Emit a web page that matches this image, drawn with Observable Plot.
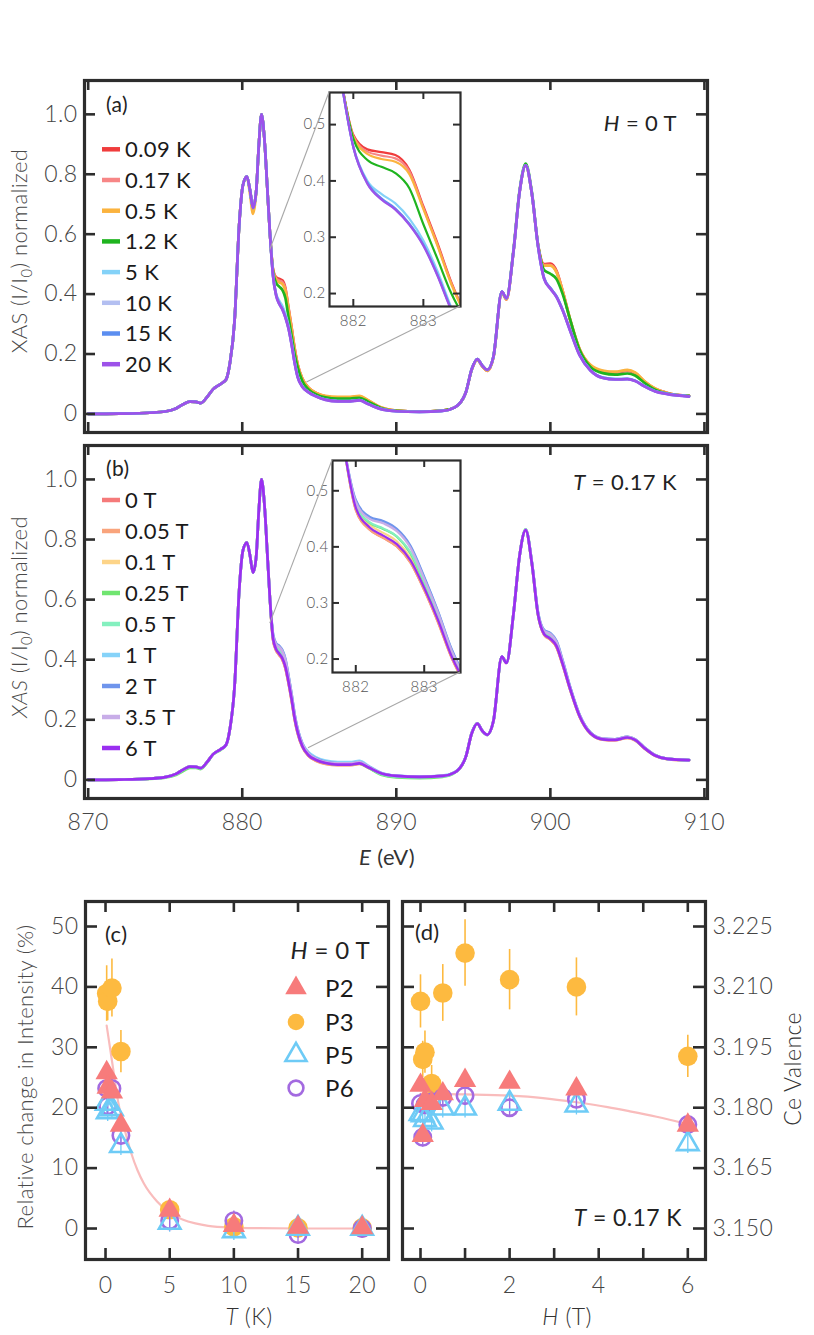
<!DOCTYPE html>
<html>
<head>
<meta charset="utf-8">
<script src="https://cdn.jsdelivr.net/npm/d3@7"></script>
<script src="https://cdn.jsdelivr.net/npm/@observablehq/plot@0.6"></script>
<style>
  html, body { margin: 0; padding: 0; background: #fff; }
  #fig { position: relative; width: 814px; height: 1335px; overflow: hidden; background: #fff; }
  #fig text { font-weight: 300; letter-spacing: 0.4px; }
  #fig text.reg { font-weight: 400; }
</style>
</head>
<body>
<div id="fig"></div>
<script>
// ---------------- data: XAS spectra ----------------
const energy = [
  870, 872, 874, 875, 875.7, 876.2, 876.6, 877.0, 877.3, 877.7, 878.1, 878.6, 878.95,
  879.2, 879.5, 879.8, 880.05, 880.3, 880.5, 880.7, 880.9, 881.08, 881.25, 881.45, 881.62, 881.8,
  882.0, 882.2, 882.4, 882.6, 882.8, 883.0, 883.2, 883.4, 883.6, 883.9, 884.3, 884.8, 885.4,
  886.2, 887.0, 887.6, 888.2, 889.0, 890.0, 891.5, 893.0, 893.8, 894.5, 894.9, 895.25,
  895.6, 895.9, 896.3, 896.85, 897.15, 897.6, 898.0, 898.4, 898.8, 899.2, 899.6, 900.0, 900.4,
  900.8, 901.3, 901.9, 902.6, 903.4, 904.2, 905.0, 905.5, 906.1, 906.8, 907.6, 909.0
];

// common rising part (870 - 881.8 eV), panel (a)
const aRise = [0, .001, .004, .008, .018, .033, .041, .040, .036, .055, .082, .100, .115,
  .17, .31, .63, .765, .792, .748, .688, .74, .90, 1.0, .91, .76, .60];
const aRiseOrange = [0, .001, .004, .008, .018, .033, .041, .040, .036, .055, .082, .100, .115,
  .17, .31, .63, .765, .79, .735, .668, .735, .90, 1.0, .91, .76, .60];
// panel (b)
const bRise = [0, .001, .004, .009, .02, .035, .044, .043, .039, .058, .085, .102, .117,
  .17, .31, .63, .765, .79, .748, .69, .74, .90, 1.0, .91, .76, .60];
const bRiseGreen = [0, .001, .003, .007, .016, .03, .04, .04, .036, .056, .084, .1, .116,
  .17, .31, .63, .765, .79, .748, .69, .74, .90, 1.0, .91, .76, .60];

const a009 = [...aRise,
  .482, .456, .451, .446, .42, .355, .29, .22, .165, .118, .088, .07, .059,
  .054, .054, .058, .043, .021, .011, .008, .011, .022, .07, .148, .18,
  .158, .144, .188, .405, .382, .54, .74, .828, .735, .565, .50, .502, .478,
  .41, .31, .215, .162, .142, .138, .144, .136, .108, .084, .07, .06];
const a017 = [...aRise,
  .48, .452, .445, .44, .417, .352, .287, .218, .164, .117, .087, .069, .058,
  .054, .055, .059, .044, .021, .011, .008, .011, .022, .07, .148, .18,
  .158, .144, .188, .405, .382, .54, .74, .829, .735, .562, .497, .497, .474,
  .41, .312, .216, .162, .143, .139, .145, .137, .109, .084, .07, .06];
const a05 = [...aRiseOrange,
  .478, .448, .439, .434, .412, .35, .285, .216, .163, .117, .088, .07, .06,
  .057, .057, .06, .045, .022, .011, .008, .011, .022, .07, .148, .18,
  .158, .144, .188, .405, .382, .54, .74, .83, .735, .562, .495, .495, .472,
  .41, .313, .217, .164, .145, .141, .147, .139, .11, .085, .07, .06];
const a12 = [...aRise,
  .475, .437, .425, .414, .387, .323, .262, .2, .155, .11, .082, .065, .055,
  .051, .051, .054, .04, .02, .01, .008, .011, .022, .07, .15, .183,
  .16, .147, .19, .408, .386, .545, .745, .836, .74, .565, .48, .468, .45,
  .40, .312, .213, .157, .136, .131, .135, .128, .104, .081, .068, .06];
const a5 = [...aRise,
  .462, .40, .377, .36, .333, .294, .24, .175, .125, .092, .073, .059, .048,
  .043, .043, .046, .033, .017, .009, .007, .010, .022, .07, .15, .183,
  .16, .147, .19, .408, .386, .54, .74, .83, .735, .56, .452, .42, .392,
  .347, .277, .197, .146, .121, .116, .117, .111, .093, .076, .067, .059];
const a10 = [...aRise,
  .46, .396, .368, .35, .323, .286, .233, .171, .123, .091, .072, .058, .047,
  .042, .042, .045, .032, .016, .009, .007, .010, .022, .07, .15, .183,
  .16, .147, .19, .408, .386, .54, .74, .83, .735, .56, .451, .419, .391,
  .346, .276, .196, .145, .12, .115, .116, .110, .092, .075, .066, .058];
const a15 = [...aRise,
  .46, .397, .369, .351, .324, .287, .234, .172, .124, .092, .073, .059, .048,
  .043, .043, .046, .033, .017, .009, .007, .010, .022, .07, .15, .183,
  .16, .147, .19, .408, .386, .54, .74, .83, .735, .56, .452, .42, .392,
  .347, .277, .197, .146, .121, .116, .117, .111, .093, .076, .067, .059];
const a20 = [...aRise,
  .46, .395, .367, .349, .322, .285, .232, .17, .122, .09, .072, .058, .047,
  .042, .042, .045, .032, .016, .009, .007, .010, .022, .07, .15, .183,
  .16, .147, .19, .408, .386, .54, .74, .83, .735, .56, .45, .418, .39,
  .345, .275, .195, .145, .12, .115, .116, .110, .092, .075, .066, .058];

const b0 = [...bRise,
  .466, .431, .416, .401, .372, .323, .266, .202, .155, .11, .08, .064, .054,
  .05, .05, .054, .04, .021, .012, .01, .013, .025, .075, .155, .187,
  .162, .15, .195, .41, .389, .55, .745, .83, .72, .55, .483, .467, .442,
  .383, .298, .21, .154, .134, .132, .14, .132, .105, .08, .069, .065];
const b005 = [...bRise,
  .466, .431, .416, .401, .372, .323, .266, .202, .155, .11, .08, .063, .053,
  .049, .049, .053, .04, .021, .012, .01, .013, .025, .075, .156, .188,
  .162, .15, .195, .41, .39, .55, .745, .832, .72, .55, .483, .467, .442,
  .383, .298, .21, .154, .134, .132, .14, .132, .105, .08, .069, .065];
const b01 = [...bRise,
  .472, .44, .425, .41, .38, .331, .273, .208, .16, .114, .083, .067, .057,
  .052, .052, .056, .042, .022, .013, .01, .013, .025, .075, .156, .188,
  .162, .15, .195, .41, .39, .55, .745, .833, .72, .55, .488, .474, .448,
  .387, .301, .213, .156, .136, .134, .142, .134, .107, .082, .07, .066];
const b025 = [...bRiseGreen,
  .474, .443, .432, .418, .388, .336, .277, .21, .162, .115, .084, .068, .057,
  .052, .052, .055, .04, .017, .008, .006, .01, .024, .075, .156, .188,
  .162, .15, .195, .41, .39, .55, .745, .834, .722, .552, .49, .478, .452,
  .39, .303, .214, .156, .136, .134, .142, .134, .107, .082, .07, .066];
const b05 = [...bRise,
  .475, .444, .433, .419, .39, .338, .278, .211, .162, .116, .085, .069, .058,
  .053, .053, .056, .042, .02, .011, .009, .012, .025, .075, .156, .188,
  .162, .15, .195, .41, .39, .55, .745, .834, .722, .552, .49, .478, .452,
  .39, .303, .214, .156, .136, .134, .142, .134, .107, .082, .07, .066];
const b1 = [...bRise,
  .482, .452, .444, .43, .40, .345, .285, .217, .168, .122, .092, .075, .064,
  .059, .059, .063, .046, .024, .014, .011, .014, .026, .076, .157, .188,
  .162, .15, .195, .41, .39, .55, .745, .832, .724, .556, .497, .487, .46,
  .395, .305, .215, .157, .137, .135, .143, .135, .108, .082, .07, .066];
const b2 = [...bRise,
  .484, .454, .446, .432, .402, .347, .286, .218, .168, .12, .088, .071, .06,
  .055, .055, .059, .044, .023, .013, .01, .013, .025, .075, .156, .188,
  .162, .15, .195, .41, .39, .55, .745, .832, .724, .556, .498, .488, .462,
  .397, .306, .216, .158, .137, .135, .143, .135, .108, .082, .07, .066];
const b35 = [...bRise,
  .48, .45, .442, .428, .398, .343, .283, .215, .166, .119, .087, .07, .059,
  .055, .055, .059, .044, .023, .013, .01, .013, .025, .075, .156, .188,
  .162, .15, .195, .41, .39, .55, .745, .832, .723, .555, .495, .485, .458,
  .393, .304, .215, .157, .137, .135, .143, .135, .108, .082, .07, .066];
const b6 = [...bRise,
  .47, .435, .42, .405, .376, .327, .27, .205, .158, .112, .082, .066, .056,
  .051, .051, .055, .041, .022, .013, .010, .013, .025, .075, .155, .187,
  .162, .15, .195, .41, .389, .55, .745, .831, .72, .55, .485, .47, .445,
  .385, .30, .212, .155, .135, .133, .141, .133, .106, .081, .07, .066];

const tempNames = ["0.09 K", "0.17 K", "0.5 K", "1.2 K", "5 K", "10 K", "15 K", "20 K"];
const tempColors = ["#f03c3c", "#f78686", "#fbb33e", "#1fb41f", "#84d2f8", "#b3bff1", "#5b8ef0", "#9d52e9"];
const fieldNames = ["0 T", "0.05 T", "0.1 T", "0.25 T", "0.5 T", "1 T", "2 T", "3.5 T", "6 T"];
const fieldColors = ["#f57a7a", "#f9a47c", "#fdd488", "#70e570", "#84f0bf", "#86d3f9", "#6f95ec", "#c8ade8", "#9a2ff0"];

const xasTicks = [0, 0.2, 0.4, 0.6, 0.8, 1.0];
const eTicks = [870, 880, 890, 900, 910];
const insetYTicks = [0.2, 0.3, 0.4, 0.5];
const insetXTicks = [882, 883];
const zoomAnchorA = [[881.82, 0.547], [884.2, 0.105]];
const zoomAnchorB = [[881.82, 0.52], [884.3, 0.105]];

// ---------------- data: (c) temperature dependence ----------------
const tempK = [0.09, 0.17, 0.5, 1.2, 5, 10, 15, 20];
const p2T = [25.8, 23.4, 22.6, 17.1, 3.0, 0.5, 0.2, 0.1];
const p3T = [38.9, 37.6, 39.8, 29.3, 3.1, 0.3, 0.1, 0.1];
const p3TErr = [4.6, 3.2, 4.8, 3.5, 1.2, 0.8, 0.8, 0.8];
const p5T = [20.7, 19.3, 19.8, 13.7, 1.0, -0.4, 0.0, 0.0];
const p6T = [23.2, 20.3, 23.2, 15.4, 1.3, 1.3, -1.0, 0.0];
const fitTx = [0.09, 0.5, 1, 1.5, 2, 2.5, 3, 4, 5, 6, 7, 8, 10, 12, 15, 20.5];
const fitTy = [33.6, 27.8, 20.8, 16.3, 12.5, 9.6, 7.4, 4.5, 2.6, 1.5, 0.85, 0.45, 0.15, 0.05, 0, 0];

// ---------------- data: (d) field dependence ----------------
const fieldT = [0, 0.05, 0.1, 0.25, 0.5, 1, 2, 3.5, 6];
const p2H = [23.7, 15.4, 21.2, 20.7, 22.3, 24.5, 24.2, 23.1, 17.1];
const p3H = [37.6, 28.0, 29.2, 24.0, 39.0, 45.6, 41.2, 40.0, 28.5];
const p3HErr = [4.4, 3.0, 3.5, 3.0, 4.7, 5.5, 5.0, 4.8, 3.5];
const p5H = [19.0, 18.8, 18.0, 17.6, 19.9, 19.9, 20.7, 20.4, 14.0];
const p6H = [20.7, 15.1, 20.5, 21.0, 21.7, 22.0, 20.0, 21.4, 17.2];
const fitHx = [0, 1, 2, 2.75, 3.5, 4.2, 4.7, 5.3, 6];
const fitHy = [22.3, 22.2, 22.0, 21.6, 20.9, 20.1, 19.4, 18.5, 17.3];

const pctTicks = [0, 10, 20, 30, 40, 50];
const tempTicks = [0, 5, 10, 15, 20];
const fieldTicks = [0, 1, 2, 3, 4, 5, 6];
const fieldLabelTicks = [0, 2, 4, 6];
const valenceTicks = [3.150, 3.165, 3.180, 3.195, 3.210, 3.225];

// ---------------- styling ----------------
const FONT = "Lato, 'Noto Sans', 'DejaVu Sans', sans-serif";
const FR = "#2d2d2d";
const TT = "#454545";
const P2C = "#f77b7b", P3C = "#fdba40", P5C = "#6ecbf6", P6C = "#a36ae0", FIT = "#f9bcbc";

const fig = document.getElementById("fig");
function place(node, left, top) {
  node.style.position = "absolute";
  node.style.left = left + "px";
  node.style.top = top + "px";
  fig.appendChild(node);
  return node;
}
function toRows(list, names) {
  return list.flatMap((arr, i) => energy.map((E, j) => ({E, v: arr[j], s: names[i]})));
}
const rowsA = toRows([a009, a017, a05, a12, a5, a10, a15, a20], tempNames);
const rowsB = toRows([b0, b005, b01, b025, b05, b1, b2, b35, b6], fieldNames);

const eDomain = [869.76, 910.2];
const xasDomain = [-0.062, 1.113];

function spectrumPanel(rows, names, colors, {height, mt, mb, xLabels}) {
  const W = 814, ml = 84, mr = 107;
  const pw = W - ml - mr, ph = height - mt - mb;
  const marks = [
    Plot.line(rows, {x: "E", y: "v", z: "s", stroke: "s", strokeWidth: 2.7, curve: "monotone-x"}),
    Plot.tickY(xasTicks, {y: d => d, insetRight: pw - 11, stroke: FR, strokeWidth: 2.6}),
    Plot.tickY(xasTicks, {y: d => d, insetLeft: pw - 11, stroke: FR, strokeWidth: 2.6}),
    Plot.tickX(eTicks, {x: d => d, insetBottom: ph - 10, stroke: FR, strokeWidth: 2.6}),
    Plot.tickX(eTicks, {x: d => d, insetTop: ph - 10, stroke: FR, strokeWidth: 2.6}),
    Plot.text(xasTicks, {y: d => d, text: d => d === 0 ? "0" : d.toFixed(1), frameAnchor: "left",
      textAnchor: "end", lineAnchor: "middle", dx: -7, fontSize: 23, fill: TT}),
    Plot.frame({stroke: FR, strokeWidth: 3.2})
  ];
  if (xLabels) marks.push(Plot.text(eTicks, {x: d => d, text: d => String(d), frameAnchor: "bottom",
    lineAnchor: "middle", dy: 24, fontSize: 23, fill: TT}));
  return Plot.plot({
    width: W, height, marginLeft: ml, marginRight: mr, marginTop: mt, marginBottom: mb,
    x: {domain: eDomain, axis: null}, y: {domain: xasDomain, axis: null},
    color: {domain: names, range: colors},
    style: {background: "transparent", overflow: "visible", fontFamily: FONT},
    marks
  });
}

function insetPanel(rows, names, colors, {fw, fh, yDomain}) {
  const ml = 45, mr = 8, mt = 8, mb = 30;
  return Plot.plot({
    width: ml + fw + mr, height: mt + fh + mb, marginLeft: ml, marginRight: mr, marginTop: mt, marginBottom: mb,
    x: {domain: [881.66, 883.53], axis: null}, y: {domain: yDomain, axis: null},
    color: {domain: names, range: colors},
    style: {background: "transparent", overflow: "visible", fontFamily: FONT},
    marks: [
      Plot.frame({fill: "white"}),
      Plot.line(rows, {x: "E", y: "v", z: "s", stroke: "s", strokeWidth: 2.2, curve: "monotone-x", clip: true}),
      Plot.tickY(insetYTicks, {y: d => d, insetRight: fw - 7, stroke: FR, strokeWidth: 2}),
      Plot.tickY(insetYTicks, {y: d => d, insetLeft: fw - 7, stroke: FR, strokeWidth: 2}),
      Plot.tickX(insetXTicks, {x: d => d, insetBottom: fh - 7, stroke: FR, strokeWidth: 2}),
      Plot.tickX(insetXTicks, {x: d => d, insetTop: fh - 7, stroke: FR, strokeWidth: 2}),
      Plot.text(insetYTicks, {y: d => d, text: d => d.toFixed(1), frameAnchor: "left", textAnchor: "end",
        lineAnchor: "middle", dx: -4, fontSize: 15, fill: "#555"}),
      Plot.text(insetXTicks, {x: d => d, text: d => String(d), frameAnchor: "bottom", lineAnchor: "middle",
        dy: 15, fontSize: 15, fill: "#555"}),
      Plot.frame({stroke: FR, strokeWidth: 2.2})
    ]
  });
}

const plotA = place(spectrumPanel(rowsA, tempNames, tempColors, {height: 440, mt: 80, mb: 8, xLabels: false}), 0, 0);
const plotB = place(spectrumPanel(rowsB, fieldNames, fieldColors, {height: 440, mt: 5, mb: 82, xLabels: true}), 0, 440);

const insetBoxA = {left: 329, top: 92, right: 460, bottom: 306};
const insetBoxB = {left: 332, top: 460, right: 460, bottom: 672};
place(insetPanel(rowsA, tempNames, tempColors, {fw: insetBoxA.right - insetBoxA.left, fh: insetBoxA.bottom - insetBoxA.top, yDomain: [0.177, 0.557]}),
  insetBoxA.left - 45, insetBoxA.top - 8);
place(insetPanel(rowsB, fieldNames, fieldColors, {fw: insetBoxB.right - insetBoxB.left, fh: insetBoxB.bottom - insetBoxB.top, yDomain: [0.176, 0.554]}),
  insetBoxB.left - 45, insetBoxB.top - 8);

// ---------------- (c) and (d) ----------------
const pctDomain = [-5.13, 54.14];
function pointMarks(rows, fitRows) {
  return [
    Plot.line(fitRows, {x: "x", y: "y", stroke: FIT, strokeWidth: 2.2, curve: "monotone-x"}),
    Plot.ruleX(rows, {x: "x", y1: d => d.p3 - d.e3, y2: d => d.p3 + d.e3, stroke: P3C, strokeWidth: 1.6}),
    Plot.dot(rows, {x: "x", y: "p3", r: 9.8, fill: P3C}),
    Plot.ruleX(rows, {x: "x", y1: d => d.p5 - 1.6, y2: d => d.p5 + 1.6, stroke: P5C, strokeWidth: 1.3}),
    Plot.ruleX(rows, {x: "x", y1: d => d.p6 - 1.6, y2: d => d.p6 + 1.6, stroke: P6C, strokeWidth: 1.3}),
    Plot.dot(rows, {x: "x", y: "p6", r: 8.2, stroke: P6C, strokeWidth: 2.6, fill: "none"}),
    Plot.dot(rows, {x: "x", y: "p5", symbol: "triangle", r: 8, stroke: P5C, strokeWidth: 2.6, fill: "none"}),
    Plot.dot(rows, {x: "x", y: "p2", symbol: "triangle", r: 8.3, fill: P2C})
  ];
}
const rowsC = tempK.map((x, i) => ({x, p2: p2T[i], p3: p3T[i], e3: p3TErr[i], p5: p5T[i], p6: p6T[i]}));
const rowsD = fieldT.map((x, i) => ({x, p2: p2H[i], p3: p3H[i], e3: p3HErr[i], p5: p5H[i], p6: p6H[i]}));
const fitC = fitTx.map((x, i) => ({x, y: fitTy[i]}));
const fitD = fitHx.map((x, i) => ({x, y: fitHy[i]}));

function framedTicks(pw, ph, xt, yt) {
  return [
    Plot.tickY(yt, {y: d => d, insetRight: pw - 12, stroke: FR, strokeWidth: 2.6}),
    Plot.tickY(yt, {y: d => d, insetLeft: pw - 12, stroke: FR, strokeWidth: 2.6}),
    Plot.tickX(xt, {x: d => d, insetBottom: ph - 11, stroke: FR, strokeWidth: 2.6}),
    Plot.tickX(xt, {x: d => d, insetTop: ph - 11, stroke: FR, strokeWidth: 2.6})
  ];
}

// (c)
{
  const W = 395, H = 445, ml = 85, mr = 7, mt = 11, mb = 76;
  const pw = W - ml - mr, ph = H - mt - mb;
  place(Plot.plot({
    width: W, height: H, marginLeft: ml, marginRight: mr, marginTop: mt, marginBottom: mb,
    x: {domain: [-1.56, 22.05], axis: null}, y: {domain: pctDomain, axis: null},
    style: {background: "transparent", overflow: "visible", fontFamily: FONT},
    marks: [
      ...pointMarks(rowsC, fitC),
      ...framedTicks(pw, ph, tempTicks, pctTicks),
      Plot.text(pctTicks, {y: d => d, text: d => String(d), frameAnchor: "left", textAnchor: "end",
        lineAnchor: "middle", dx: -7, fontSize: 23, fill: TT}),
      Plot.text(tempTicks, {x: d => d, text: d => String(d), frameAnchor: "bottom", lineAnchor: "middle",
        dy: 26, fontSize: 23, fill: TT}),
      Plot.frame({stroke: FR, strokeWidth: 3.2})
    ]
  }), 0, 890);
}
// (d)
{
  const W = 419, H = 445, ml = 7, mr = 109, mt = 11, mb = 76;
  const pw = W - ml - mr, ph = H - mt - mb;
  place(Plot.plot({
    width: W, height: H, marginLeft: ml, marginRight: mr, marginTop: mt, marginBottom: mb,
    x: {domain: [-0.404, 6.397], axis: null}, y: {domain: pctDomain, axis: null},
    style: {background: "transparent", overflow: "visible", fontFamily: FONT},
    marks: [
      ...pointMarks(rowsD, fitD),
      ...framedTicks(pw, ph, fieldTicks, pctTicks),
      Plot.text(valenceTicks, {y: v => (v - 3.150) / 0.0015, text: v => v.toFixed(3), frameAnchor: "right",
        textAnchor: "start", lineAnchor: "middle", dx: 7, fontSize: 23, fill: TT}),
      Plot.text(fieldLabelTicks, {x: d => d, text: d => String(d), frameAnchor: "bottom", lineAnchor: "middle",
        dy: 26, fontSize: 23, fill: TT}),
      Plot.frame({stroke: FR, strokeWidth: 3.2})
    ]
  }), 395, 890);
}

// ---------------- overlay: labels, legends, zoom connectors ----------------
const ov = d3.create("svg").attr("width", 814).attr("height", 1335)
  .attr("font-family", FONT)
  .style("position", "absolute").style("left", "0px").style("top", "0px").style("overflow", "visible");

function label(x, y, parts, {size = 22, anchor = "start", fill = "#222", rotate = 0, reg = false} = {}) {
  const t = ov.append("text")
    .attr("transform", `translate(${x},${y}) rotate(${rotate})`)
    .attr("text-anchor", anchor).attr("font-size", size).attr("fill", fill)
    .attr("dy", "0.36em");
  if (reg) t.attr("class", "reg");
  for (const p of parts) {
    const s = typeof p === "string" ? {t: p} : p;
    const ts = t.append("tspan").text(s.t);
    if (s.i) ts.attr("font-style", "italic");
    if (s.sub) ts.attr("font-size", size * 0.68).attr("dy", size * 0.22);
    if (s.up) ts.attr("dy", -size * 0.22);
  }
  return t;
}

// connectors
function connect(plot, offTop, anchors, box) {
  const sx = plot.scale("x"), sy = plot.scale("y");
  const pts = [[box.left, box.top, anchors[0]], [box.right, box.bottom, anchors[1]]];
  for (const [bx, by, a] of pts) {
    ov.append("line").attr("x1", bx).attr("y1", by)
      .attr("x2", sx.apply(a[0])).attr("y2", sy.apply(a[1]) + offTop)
      .attr("stroke", "#a8a8a8").attr("stroke-width", 1.1);
  }
}
connect(plotA, 0, zoomAnchorA, insetBoxA);
connect(plotB, 440, zoomAnchorB, insetBoxB);

// panel letters and notes
label(106, 104, ["(a)"], {size: 21, reg: true});
label(106, 468, ["(b)"], {size: 21, reg: true});
label(677, 123, [{t: "H", i: true}, " = 0 T"], {size: 22, anchor: "end", reg: true});
label(677, 482, [{t: "T", i: true}, " = 0.17 K"], {size: 22, anchor: "end", reg: true});
label(19, 251, ["XAS (I/I", {t: "0", sub: true}, {t: ") normalized", up: true}], {size: 22, anchor: "middle", rotate: -90, fill: "#4a4a4a"});
label(19, 617, [{t: "XAS", i: true}, " (I/I", {t: "0", sub: true}, {t: ") normalized", up: true}], {size: 22, anchor: "middle", rotate: -90, fill: "#4a4a4a"});
label(387, 857, [{t: "E", i: true}, " (eV)"], {size: 22, anchor: "middle", fill: "#333", reg: true});

// spectrum legends
function spectrumLegend(names, colors, y0, step) {
  names.forEach((n, i) => {
    const y = y0 + i * step;
    ov.append("line").attr("x1", 102).attr("x2", 120).attr("y1", y).attr("y2", y)
      .attr("stroke", colors[i]).attr("stroke-width", 4.5);
    label(125, y, [n], {size: 22, fill: "#1a1a1a", reg: true});
  });
}
spectrumLegend(tempNames, tempColors, 149.3, 30.7);
spectrumLegend(fieldNames, fieldColors, 500, 31.0);

// (c)/(d) labels
label(105, 934, ["(c)"], {size: 22, reg: true});
label(415, 932, ["(d)"], {size: 22, reg: true});
label(370, 950, [{t: "H", i: true}, " = 0 T"], {size: 24, anchor: "end", reg: true});
label(682, 1218, [{t: "T", i: true}, " = 0.17 K"], {size: 23, anchor: "end", reg: true});
label(25, 1077, ["Relative change in Intensity (%)"], {size: 22, anchor: "middle", rotate: -90, fill: "#4a4a4a"});
label(249, 1317, [{t: "T", i: true}, " (K)"], {size: 23, anchor: "middle", fill: "#333"});
label(567, 1317, [{t: "H", i: true}, " (T)"], {size: 23, anchor: "middle", fill: "#333"});
label(793, 1069, ["Ce Valence"], {size: 23, anchor: "middle", rotate: -90, fill: "#333"});

// (c) marker legend
const legendP = [
  {name: "P2", sym: d3.symbolTriangle, r: 8, fill: P2C, stroke: "none"},
  {name: "P3", sym: d3.symbolCircle, r: 8.3, fill: P3C, stroke: "none"},
  {name: "P5", sym: d3.symbolTriangle, r: 7.8, fill: "none", stroke: P5C},
  {name: "P6", sym: d3.symbolCircle, r: 7.4, fill: "none", stroke: P6C}
];
const legendPY = [988, 1022, 1055, 1088];
legendP.forEach((p, i) => {
  ov.append("path").attr("d", d3.symbol(p.sym, p.r * p.r * Math.PI)())
    .attr("transform", `translate(296,${legendPY[i]})`)
    .attr("fill", p.fill).attr("stroke", p.stroke).attr("stroke-width", 2.6);
  label(325, legendPY[i], [p.name], {size: 24, fill: "#1a1a1a", reg: true});
});

fig.appendChild(ov.node());
</script>
</body>
</html>
